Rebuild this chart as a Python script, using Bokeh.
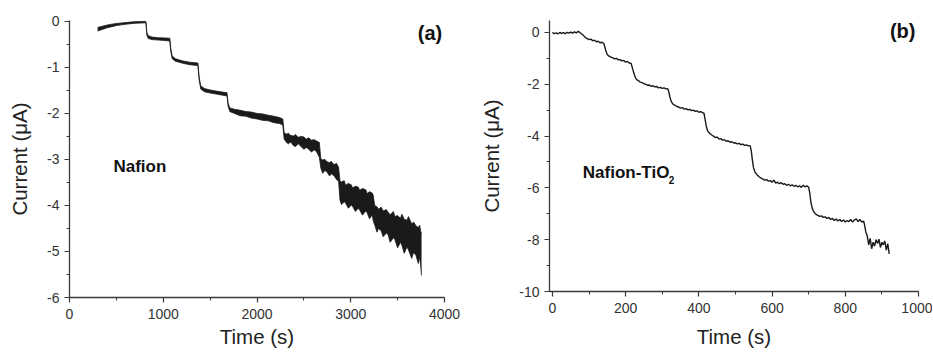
from jinja2 import Template
from bokeh.plotting import figure
from bokeh.models import Range1d, SingleIntervalTicker, Label, PrintfTickFormatter
from bokeh.embed import file_html
from bokeh.resources import INLINE

# ---------------- Data: panel (a) Nafion (noisy band: upper / lower envelope) ----------------
t_a = [300, 340, 400, 450, 500, 550, 600, 650, 700, 760, 815,
       825, 840, 880, 950, 1020, 1070,
       1080, 1095, 1130, 1200, 1280, 1370,
       1382, 1400, 1440, 1500, 1580, 1680,
       1692, 1710, 1760, 1820, 1880, 1940, 2000, 2060, 2120, 2180, 2240, 2275,
       2290, 2315, 2335, 2360, 2390, 2410, 2440, 2465, 2500, 2525, 2550, 2580, 2610, 2635, 2665,
       2680, 2700, 2725, 2745, 2775, 2790, 2820, 2850, 2870,
       2885, 2900, 2930, 2945, 2975, 3005, 3020, 3050, 3080, 3095, 3125, 3160, 3175, 3200, 3230, 3240,
       3255, 3280, 3295, 3325, 3345, 3380, 3400, 3420, 3455, 3470, 3500, 3530, 3545, 3570, 3600,
       3615, 3650, 3670, 3695, 3720, 3735, 3745, 3755]
upper_a = [-0.13, -0.11, -0.08, -0.06, -0.045, -0.035, -0.025, -0.015, -0.005, 0.00, 0.00,
           -0.24, -0.31, -0.34, -0.355, -0.36, -0.365,
           -0.58, -0.75, -0.81, -0.855, -0.885, -0.905,
           -1.20, -1.40, -1.46, -1.49, -1.52, -1.55,
           -1.78, -1.88, -1.91, -1.93, -1.96, -1.97, -2.00, -2.01, -2.04, -2.06, -2.09, -2.12,
           -2.42, -2.45, -2.43, -2.48, -2.49, -2.46, -2.52, -2.50, -2.51, -2.56, -2.53, -2.58, -2.57, -2.60, -2.63,
           -2.98, -3.01, -3.00, -3.05, -3.07, -3.04, -3.11, -3.09, -3.17,
           -3.47, -3.49, -3.46, -3.56, -3.52, -3.55, -3.62, -3.58, -3.60, -3.67, -3.63, -3.66, -3.74, -3.70, -3.73, -3.78,
           -4.00, -4.03, -4.08, -4.04, -4.12, -4.09, -4.15, -4.20, -4.13, -4.24, -4.22, -4.28, -4.19, -4.30, -4.32,
           -4.24, -4.40, -4.36, -4.44, -4.48, -4.43, -4.55, -4.62]
lower_a = [-0.21, -0.18, -0.14, -0.115, -0.09, -0.075, -0.06, -0.05, -0.04, -0.035, -0.03,
           -0.30, -0.37, -0.395, -0.405, -0.415, -0.425,
           -0.65, -0.81, -0.865, -0.905, -0.94, -0.96,
           -1.26, -1.47, -1.53, -1.555, -1.585, -1.62,
           -1.85, -1.96, -2.00, -2.05, -2.06, -2.10, -2.12, -2.15, -2.16, -2.20, -2.22, -2.25,
           -2.56, -2.63, -2.66, -2.62, -2.70, -2.72, -2.66, -2.71, -2.78, -2.74, -2.77, -2.84, -2.79, -2.83, -2.95,
           -3.18, -3.30, -3.24, -3.27, -3.36, -3.31, -3.35, -3.44, -3.47,
           -3.88, -3.98, -3.92, -3.95, -4.06, -3.99, -4.02, -4.13, -4.06, -4.10, -4.21, -4.12, -4.16, -4.29, -4.20, -4.34,
           -4.42, -4.58, -4.50, -4.55, -4.68, -4.60, -4.64, -4.80, -4.70, -4.74, -4.92, -4.80, -4.86, -5.04, -4.90,
           -4.96, -5.15, -5.02, -5.08, -5.26, -5.12, -5.30, -5.52]

# ---------------- Data: panel (b) Nafion-TiO2 ----------------
t_b = [0, 5, 10, 15, 20, 25, 30, 35, 40, 45, 50, 55, 60, 65, 70, 75,
       80, 85, 90, 95, 100, 105, 110, 115, 120, 125, 130, 135, 140,
       143, 146, 150, 155, 160, 165, 170, 175, 180, 185, 190, 195, 200, 205, 210, 215,
       218, 222, 226, 230, 235, 240, 245, 250, 255, 260, 265, 270, 275, 280, 285, 290, 295, 300, 305, 310, 315,
       318, 321, 325, 330, 335, 340, 345, 350, 355, 360, 365, 370, 375, 380, 385, 390, 395, 400, 405, 410, 414,
       417, 420, 424, 430, 435, 440, 445, 450, 455, 460, 465, 470, 475, 480, 485, 490, 495, 500, 505, 510,
       515, 520, 525, 530, 535, 540,
       543, 546, 549, 553, 558, 565, 570, 575, 580, 585, 590, 595, 600, 605, 610, 615, 620, 625, 630, 635,
       640, 645, 650, 655, 660, 665, 670, 675, 680, 685, 690, 695, 700,
       703, 706, 710, 715, 720, 725, 730, 735, 740, 745, 750, 755, 760, 765, 770, 775, 780, 785, 790, 795,
       800, 805, 810, 815, 820, 825, 830, 835, 840, 845, 850,
       853, 856, 860, 864, 868, 872, 876, 880, 884, 888, 892, 896, 900, 904, 908, 912, 916, 920]
i_b = [0.00, -0.05, -0.02, -0.06, 0.00, -0.04, -0.01, -0.05, 0.00, -0.03, 0.01, -0.03, 0.02, -0.02, 0.04, 0.00,
       -0.06, -0.12, -0.20, -0.24, -0.28, -0.26, -0.32, -0.30, -0.36, -0.34, -0.40, -0.38, -0.42,
       -0.55, -0.72, -0.86, -0.92, -0.95, -0.98, -1.02, -1.00, -1.06, -1.05, -1.10, -1.08, -1.15, -1.12, -1.18, -1.20,
       -1.35, -1.55, -1.72, -1.82, -1.86, -1.92, -1.94, -1.98, -2.00, -2.04, -2.03, -2.08, -2.06, -2.10, -2.09, -2.14, -2.12, -2.16, -2.14, -2.18, -2.17,
       -2.30, -2.50, -2.68, -2.78, -2.82, -2.86, -2.88, -2.92, -2.90, -2.96, -2.94, -2.99, -2.97, -3.02, -3.00, -3.05, -3.03, -3.08, -3.06, -3.10, -3.12,
       -3.35, -3.60, -3.80, -3.90, -3.96, -4.00, -4.06, -4.04, -4.12, -4.10, -4.16, -4.14, -4.20, -4.18, -4.24, -4.22, -4.27, -4.26, -4.30, -4.28,
       -4.33, -4.31, -4.36, -4.34, -4.38, -4.37,
       -4.55, -4.90, -5.20, -5.38, -5.48, -5.58, -5.62, -5.66, -5.70, -5.68, -5.74, -5.72, -5.78, -5.70, -5.82, -5.78, -5.84, -5.80, -5.86, -5.84,
       -5.90, -5.86, -5.92, -5.88, -5.94, -5.90, -5.96, -5.92, -5.98, -5.90, -5.96, -5.92, -5.98,
       -6.20, -6.55, -6.80, -6.95, -7.02, -7.06, -7.10, -7.08, -7.14, -7.12, -7.18, -7.14, -7.22, -7.18, -7.26, -7.20, -7.28, -7.22, -7.30, -7.24,
       -7.32, -7.26, -7.30, -7.22, -7.32, -7.24, -7.20, -7.30, -7.22, -7.32, -7.28,
       -7.45, -7.70, -7.85, -8.20, -7.95, -8.35, -8.10, -8.25, -8.00, -8.15, -7.98, -8.30, -8.10, -8.20, -8.05, -8.40, -8.15, -8.55]

FONT = "Liberation Sans"
INK = "#1a1a1a"
AXIS = "#3a3a3a"


def style(p, xint, yint, xlabel_standoff, ylabel_standoff):
    p.grid.visible = False
    p.outline_line_color = None
    p.background_fill_color = "white"
    p.border_fill_color = "white"
    p.xaxis.ticker = SingleIntervalTicker(interval=xint, num_minor_ticks=2)
    p.yaxis.ticker = SingleIntervalTicker(interval=yint, num_minor_ticks=2)
    for ax in (p.xaxis[0], p.yaxis[0]):
        ax.formatter = PrintfTickFormatter(format="%d")
        ax.axis_line_color = AXIS
        ax.axis_line_width = 1.3
        ax.major_tick_line_color = AXIS
        ax.minor_tick_line_color = AXIS
        ax.major_tick_line_width = 1.2
        ax.minor_tick_line_width = 1.0
        ax.major_tick_in = 0
        ax.major_tick_out = 5
        ax.minor_tick_in = 0
        ax.minor_tick_out = 3
        ax.major_label_text_font = FONT
        ax.major_label_text_font_size = "14px"
        ax.major_label_text_color = "#333333"
        ax.axis_label_text_font = FONT
        ax.axis_label_text_font_size = "20.5px"
        ax.axis_label_text_font_style = "normal"
        ax.axis_label_text_color = "#222222"
    p.xaxis.major_label_standoff = 6
    p.yaxis.major_label_standoff = 5
    p.xaxis.axis_label = "Time (s)"
    p.yaxis.axis_label = "Current (\u03bcA)"
    p.xaxis.axis_label_standoff = xlabel_standoff
    p.yaxis.axis_label_standoff = ylabel_standoff


# ---------------- Panel (a) ----------------
p1 = figure(width=463, height=352, output_backend="svg", toolbar_location=None,
            x_range=Range1d(0, 4000), y_range=Range1d(-6, 0.02),
            min_border_left=69, min_border_right=19, min_border_top=20, min_border_bottom=55)
style(p1, 1000, 1, 3, 13)
p1.varea(x=t_a, y1=lower_a, y2=upper_a, fill_color=INK)
p1.line(t_a, upper_a, line_color=INK, line_width=0.8)
p1.line(t_a, lower_a, line_color=INK, line_width=0.8)
p1.add_layout(Label(x=3715, y=-0.26, text="(a)", text_font=FONT, text_font_style="bold",
                    text_font_size="20px", text_baseline="middle", text_color="#111111"))
p1.add_layout(Label(x=469, y=-3.16, text="Nafion", text_font=FONT, text_font_style="bold",
                    text_font_size="17px", text_baseline="middle", text_color="#111111"))

# ---------------- Panel (b) ----------------
p2 = figure(width=469, height=352, output_backend="svg", toolbar_location=None,
            x_range=Range1d(-8, 1000), y_range=Range1d(-10, 0.46),
            min_border_left=86, min_border_right=14, min_border_top=20, min_border_bottom=61)
style(p2, 200, 2, 9, 13)
p2.line(t_b, i_b, line_color=INK, line_width=1.4)
p2.add_layout(Label(x=922, y=0.04, text="(b)", text_font=FONT, text_font_style="bold",
                    text_font_size="20px", text_baseline="middle", text_color="#111111"))
p2.add_layout(Label(x=83, y=-5.4, text="Nafion-TiO", text_font=FONT, text_font_style="bold",
                    text_font_size="17px", text_baseline="middle", text_color="#111111"))
p2.add_layout(Label(x=83, y=-5.71, x_offset=86, text="2", text_font=FONT, text_font_style="bold",
                    text_font_size="10px", text_baseline="middle", text_color="#111111"))

# two independent roots placed side by side (no frame alignment between them)
template = Template("""{% extends base %}
{% block postamble %}
<style>
  html, body { margin: 0 !important; padding: 0 !important; overflow: hidden; }
  body { display: flex !important; flex-direction: row; align-items: flex-start; }
</style>
{% endblock %}
""")

open("out.html", "w").write(file_html([p1, p2], INLINE, template=template))
